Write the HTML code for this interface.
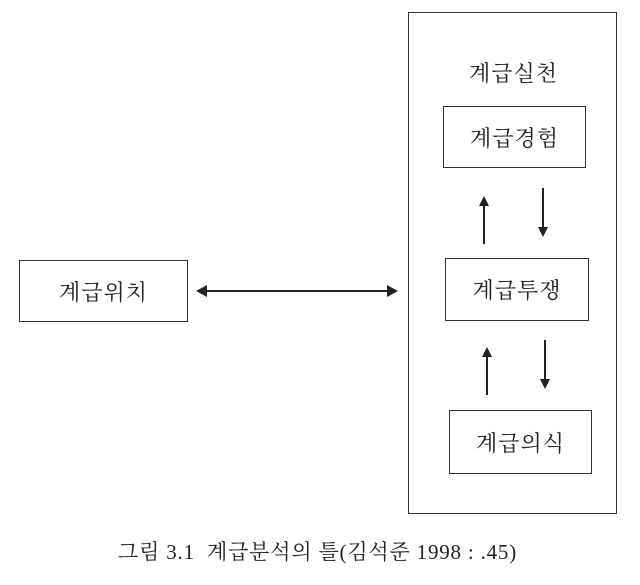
<!DOCTYPE html>
<html><head><meta charset="utf-8"><style>
html,body{margin:0;padding:0;background:#fff;}
body{width:640px;height:585px;position:relative;overflow:hidden;font-family:"Liberation Serif","Noto Serif CJK SC","Noto Sans CJK KR",serif;color:#222;}
.b{position:absolute;border:1.5px solid #333;box-sizing:border-box;display:flex;align-items:center;justify-content:center;font-size:22px;letter-spacing:1px;}
.t{position:absolute;font-size:22px;white-space:nowrap;letter-spacing:1px;}
</style></head><body>
<div class="b" style="left:408px;top:12px;width:209px;height:502px;"></div>
<div class="t" style="left:469px;top:57px;">계급실천</div>
<div class="b" style="left:443px;top:106px;width:143px;height:62px;">계급경험</div>
<div class="b" style="left:445px;top:258px;width:144px;height:63px;">계급투쟁</div>
<div class="b" style="left:449px;top:410px;width:143px;height:64px;">계급의식</div>
<div class="b" style="left:19px;top:260px;width:169px;height:62px;">계급위치</div>
<svg style="position:absolute;left:0;top:0" width="640" height="585">
<g stroke="#222" stroke-width="2" fill="#222">
<line x1="205" y1="291" x2="388" y2="291"/>
<polygon points="196,291 207,285 207,297" stroke="none"/>
<polygon points="398,291 387,285 387,297" stroke="none"/>
<line x1="484" y1="244" x2="484" y2="205"/>
<polygon points="484,196 479,206 489,206" stroke="none"/>
<line x1="543" y1="188" x2="543" y2="228"/>
<polygon points="543,237 538,227 548,227" stroke="none"/>
<line x1="487" y1="395" x2="487" y2="356"/>
<polygon points="487,347 482,357 492,357" stroke="none"/>
<line x1="545" y1="340" x2="545" y2="380"/>
<polygon points="545,389 540,379 550,379" stroke="none"/>
</g></svg>
<div class="t" style="left:118px;top:536px;font-size:21px;letter-spacing:0.8px;">그림 3.1&nbsp;&nbsp;계급분석의 틀(김석준 1998 : .45)</div>
</body></html>
